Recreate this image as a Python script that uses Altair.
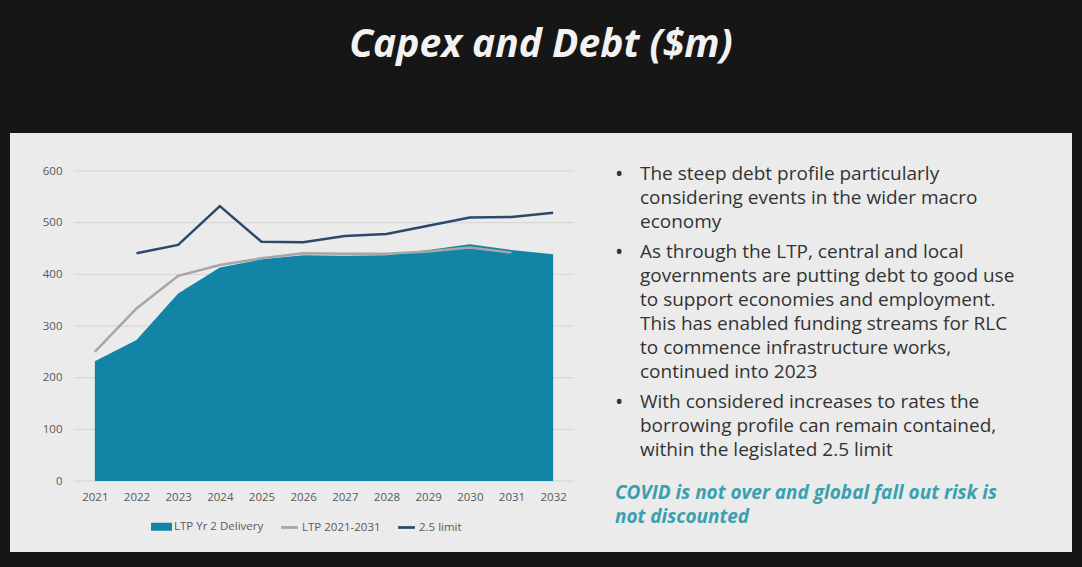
import altair as alt
import pandas as pd

years = [str(y) for y in range(2021, 2033)]
delivery = [232, 273, 363, 413, 429, 437, 436, 437, 447, 458, 447, 439]
ltp = [250, 334, 397, 418, 431, 441, 440, 440, 444, 452, 442, None]
limit = [None, 441, 457, 532, 463, 462, 474, 478, 494, 510, 511, 519]
y_ticks = [0, 100, 200, 300, 400, 500, 600]

series_names = ["LTP Yr 2 Delivery", "LTP 2021-2031", "2.5 limit"]
series_colors = ["#1284a6", "#a6a6a6", "#2a4a6c"]

title_text = "Capex and Debt ($m)"
bullets = [
    ["The steep debt profile particularly",
     "considering events in the wider macro",
     "economy"],
    ["As through the LTP, central and local",
     "governments are putting debt to good use",
     "to support economies and employment.",
     "This has enabled funding streams for RLC",
     "to commence infrastructure works,",
     "continued into 2023"],
    ["With considered increases to rates the",
     "borrowing profile can remain contained,",
     "within the legislated 2.5 limit"],
]
note_lines = ["COVID is not over and global fall out risk is", "not discounted"]

df = pd.DataFrame({"year": years, "delivery": delivery, "ltp": ltp, "limit": limit})
grid_df = pd.DataFrame({"tick": y_ticks})
one = pd.DataFrame({"a": [0]})

x_enc = alt.X("year:O", scale=alt.Scale(type="point", padding=0.5),
              axis=alt.Axis(title=None, labelAngle=0, domain=False, ticks=False, grid=False,
                            labelPadding=10, labelFontSize=11.5, labelColor="#595959",
                            labelFont="Open Sans", zindex=2))
y_scale = alt.Scale(domain=[0, 600])

# Light panel behind the chart
panel = alt.Chart(one).mark_rect(color="#ebebeb").encode(
    x=alt.value(-64), x2=alt.value(998), y=alt.value(-38), y2=alt.value(381)
)

grid = alt.Chart(grid_df).mark_rule(color="#d4d4d4", strokeWidth=1).encode(
    y=alt.Y("tick:Q", scale=y_scale,
            axis=alt.Axis(title=None, values=y_ticks, domain=False, ticks=False, grid=False,
                          labelPadding=12, labelFontSize=11.5, labelColor="#595959",
                          labelFont="Open Sans", zindex=2)),
    x=alt.value(0), x2=alt.value(500),
)

area = alt.Chart(df).mark_area(color=series_colors[0], opacity=1, interpolate="linear").encode(
    x=x_enc,
    y=alt.Y("delivery:Q", scale=y_scale),
)

ltp_line = alt.Chart(df).transform_filter("isValid(datum.ltp)").mark_line(
    color=series_colors[1], strokeWidth=2.5).encode(x=x_enc, y=alt.Y("ltp:Q", scale=y_scale))

limit_line = alt.Chart(df).transform_filter("isValid(datum.limit)").mark_line(
    color=series_colors[2], strokeWidth=2.5).encode(x=x_enc, y=alt.Y("limit:Q", scale=y_scale))

# Legend-only layer (no data drawn)
leg_common = dict(title=None, orient="none", direction="horizontal",
                  legendX=76, legendY=344, symbolSize=441,
                  labelFontSize=11.5, labelColor="#595959",
                  labelFont="Open Sans", columnPadding=14, labelOffset=1)
leg_df = pd.DataFrame({"series": series_names, "year": years[:3], "v": [0, 0, 0]})
legend_layer = alt.Chart(leg_df).transform_filter("false").mark_point(filled=True, opacity=1).encode(
    x=x_enc,
    y=alt.Y("v:Q", scale=y_scale),
    color=alt.Color("series:N", scale=alt.Scale(domain=series_names, range=series_colors),
                    legend=alt.Legend(symbolOpacity=1, **leg_common)),
    shape=alt.Shape("series:N", scale=alt.Scale(domain=series_names, range=[
        "M-1,-0.38H1V0.38H-1Z",
        "M-0.8,-0.13H0.8V0.13H-0.8Z",
        "M-0.8,-0.13H0.8V0.13H-0.8Z"]), legend=alt.Legend(**leg_common)),
)

layers = [panel, grid, area, ltp_line, limit_line, legend_layer]

# Title text
layers.append(alt.Chart(one).mark_text(
    font="Open Sans", fontSize=39, fontWeight="bold", fontStyle="italic", color="#f2f2f2",
    align="center", baseline="middle", text=title_text
).encode(x=alt.value(467), y=alt.value(-126)))

# Bullet text
y = 174
line_h = 24
for b in bullets:
    for i, line in enumerate(b):
        layers.append(alt.Chart(one).mark_text(
            font="Open Sans", fontSize=19, color="#333333", align="left",
            baseline="middle", text=line
        ).encode(x=alt.value(566), y=alt.value(y - 171)))
        if i == 0:
            layers.append(alt.Chart(one).mark_text(
                font="Open Sans", fontSize=22, color="#333333", align="left",
                baseline="middle", text="•"
            ).encode(x=alt.value(541), y=alt.value(y - 171)))
        y += line_h
    y += 6

for j, line in enumerate(note_lines):
    layers.append(alt.Chart(one).mark_text(
        font="Open Sans", fontSize=19, fontWeight="bold", fontStyle="italic",
        color="#3aa0b0", align="left", baseline="middle", text=line
    ).encode(x=alt.value(541), y=alt.value(493 - 171 + j * 24)))

chart = alt.layer(*layers).properties(
    width=500, height=310,
    padding={"left": 74, "top": 171, "right": 508, "bottom": 86},
    autosize=alt.AutoSizeParams(type="none"),
    background="#161616",
).configure_view(stroke=None)

chart.save("out.html", embed_options={"renderer": "svg", "actions": False})
